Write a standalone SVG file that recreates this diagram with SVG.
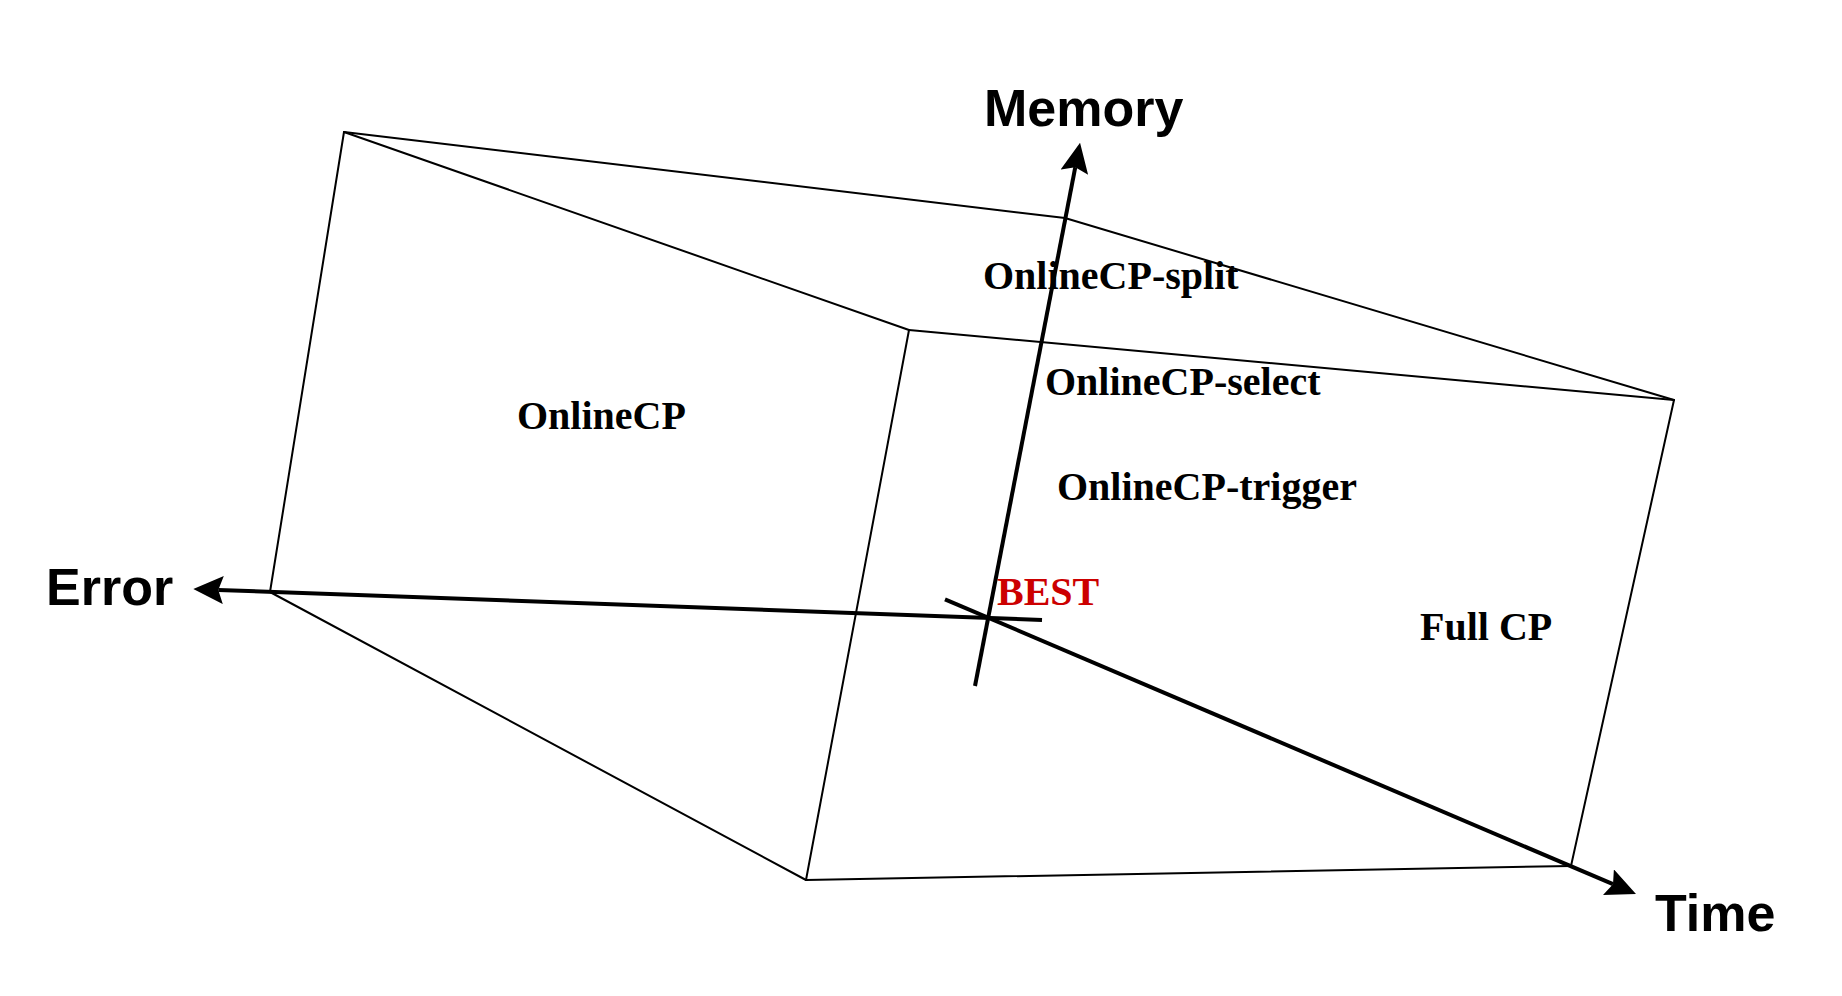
<svg xmlns="http://www.w3.org/2000/svg" width="1842" height="996" viewBox="0 0 1842 996">
<style>
.edge{stroke:#000;stroke-width:2;fill:none;stroke-linejoin:round;stroke-linecap:round}
.axis{stroke:#000;stroke-width:4;fill:none}
.lbl{font-family:"Liberation Serif","Times New Roman",serif;font-weight:bold;font-size:40px;fill:#000}
.ax{font-family:"Liberation Sans",Arial,sans-serif;font-weight:bold;font-size:52px;fill:#000}
.best{fill:#cc0000}
</style>
<defs>
<marker id="arr" markerUnits="userSpaceOnUse" viewBox="0 0 30 28" refX="5" refY="14" markerWidth="30" markerHeight="28" orient="auto">
<path d="M0,0 L30,14 L0,28 L5,14 z" fill="#000"/>
</marker>
</defs>
<rect width="1842" height="996" fill="#fff"/>
<g id="cube">
<polyline class="edge" points="344,132 1065,218 1674,400"/>
<line class="edge" x1="344" y1="132" x2="909" y2="330"/>
<line class="edge" x1="909" y1="330" x2="1674" y2="400"/>
<line class="edge" x1="344" y1="132" x2="270" y2="592"/>
<line class="edge" x1="909" y1="330" x2="806" y2="880"/>
<line class="edge" x1="270" y1="592" x2="806" y2="880"/>
<line class="edge" x1="806" y1="880" x2="1571" y2="866"/>
<line class="edge" x1="1674" y1="400" x2="1571" y2="866"/>
</g>
<g id="connectors">
<line id="axis-memory" class="axis" x1="975" y1="686" x2="1075.3" y2="167.2" marker-end="url(#arr)"/>
<line id="axis-error" class="axis" x1="1042" y1="620" x2="218.3" y2="589.9" marker-end="url(#arr)"/>
<line id="axis-time" class="axis" x1="945" y1="599.3" x2="1613" y2="884.2" marker-end="url(#arr)"/>
</g>
<g id="label-memory"><text class="ax" x="984" y="126">Memory</text></g>
<g id="label-error"><text class="ax" x="46" y="605">Error</text></g>
<g id="label-time"><text class="ax" x="1655" y="931">Time</text></g>
<g id="node-onlinecp"><text class="lbl" x="517" y="429">OnlineCP</text></g>
<g id="node-split"><text class="lbl" x="983" y="289">OnlineCP-split</text></g>
<g id="node-select"><text class="lbl" x="1045" y="395">OnlineCP-select</text></g>
<g id="node-trigger"><text class="lbl" x="1057" y="500">OnlineCP-trigger</text></g>
<g id="node-best"><text class="lbl best" x="997" y="605">BEST</text></g>
<g id="node-fullcp"><text class="lbl" x="1420" y="640">Full CP</text></g>
</svg>
